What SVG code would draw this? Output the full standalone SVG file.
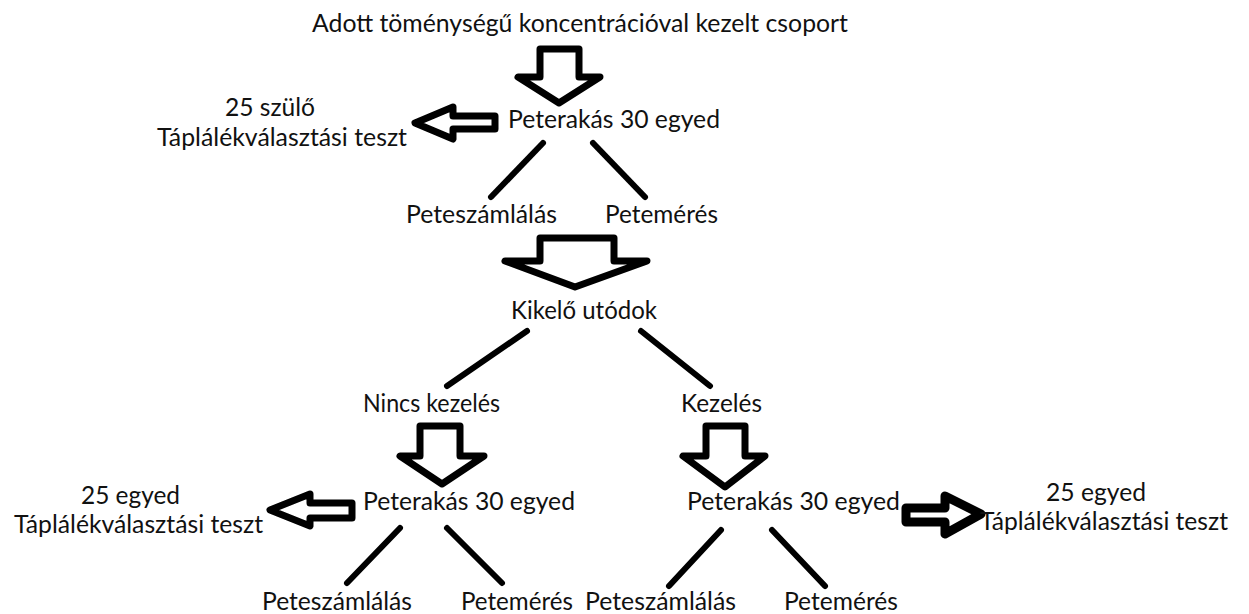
<svg xmlns="http://www.w3.org/2000/svg" width="1249" height="614" viewBox="0 0 1249 614">
<style>
text{font-family:Lato,"Open Sans","Liberation Sans",sans-serif;font-size:25px;fill:#111}
.ar{fill:#fff;stroke:#000;stroke-width:7;stroke-linejoin:round}
.ln{stroke:#000;stroke-width:6;stroke-linecap:round;fill:none}
</style>
<rect width="1249" height="614" fill="#fff"/>
<g id="connectors">
<polygon class="ar" points="540,49 579,49 579,77 600,77 559,103 518,77 540,77"/>
<polygon class="ar" points="495,116 453,116 453,107 415,123 453,139 453,129 495,129"/>
<polygon class="ar" points="540,238 614,238 614,261 647,261 575,287 505,261 540,261"/>
<polygon class="ar" points="420,426 460,426 460,456 484,456 442,484 400,456 420,456"/>
<polygon class="ar" points="352,503 310,503 310,494 270,510 310,526 310,518 352,518"/>
<polygon class="ar" points="706,426 745,426 745,456 765,456 725,487 683,456 706,456"/>
<polygon class="ar" style="stroke-width:9" points="906,508 945,508 945,496 981,514 945,534 945,522 906,522"/>
<line class="ln" x1="543" y1="143" x2="491" y2="197"/>
<line class="ln" x1="593" y1="143" x2="645" y2="197"/>
<line class="ln" x1="527" y1="331" x2="447" y2="386"/>
<line class="ln" x1="641" y1="331" x2="710" y2="386"/>
<line class="ln" x1="400" y1="528" x2="347" y2="583"/>
<line class="ln" x1="447" y1="528" x2="502" y2="583"/>
<line class="ln" x1="721" y1="530" x2="669" y2="586"/>
<line class="ln" x1="772" y1="530" x2="825" y2="586"/>
</g>
<g id="title"><text x="312" y="32" textLength="536" lengthAdjust="spacingAndGlyphs">Adott töménységű koncentrációval kezelt csoport</text></g>
<g id="peterakas1"><text x="508" y="128" textLength="212" lengthAdjust="spacingAndGlyphs">Peterakás 30 egyed</text></g>
<g id="szulo"><text x="225" y="116" textLength="90" lengthAdjust="spacingAndGlyphs">25 szülő</text><text x="157" y="146" textLength="250" lengthAdjust="spacingAndGlyphs">Táplálékválasztási teszt</text></g>
<g id="peteszamlalas1"><text x="406" y="223" textLength="151" lengthAdjust="spacingAndGlyphs">Peteszámlálás</text></g>
<g id="petemeres1"><text x="605" y="223" textLength="113" lengthAdjust="spacingAndGlyphs">Petemérés</text></g>
<g id="kikelo"><text x="511" y="319" textLength="146" lengthAdjust="spacingAndGlyphs">Kikelő utódok</text></g>
<g id="nincs"><text x="363" y="412" textLength="137" lengthAdjust="spacingAndGlyphs">Nincs kezelés</text></g>
<g id="kezeles"><text x="681" y="412" textLength="81" lengthAdjust="spacingAndGlyphs">Kezelés</text></g>
<g id="peterakas2"><text x="363" y="510" textLength="212" lengthAdjust="spacingAndGlyphs">Peterakás 30 egyed</text></g>
<g id="teszt2"><text x="81" y="504" textLength="99" lengthAdjust="spacingAndGlyphs">25 egyed</text><text x="14" y="533" textLength="249" lengthAdjust="spacingAndGlyphs">Táplálékválasztási teszt</text></g>
<g id="peterakas3"><text x="687" y="510" textLength="213" lengthAdjust="spacingAndGlyphs">Peterakás 30 egyed</text></g>
<g id="teszt3"><text x="1046" y="501" textLength="100" lengthAdjust="spacingAndGlyphs">25 egyed</text><text x="980" y="530" textLength="248" lengthAdjust="spacingAndGlyphs">Táplálékválasztási teszt</text></g>
<g id="peteszamlalas2"><text x="262" y="610" textLength="150" lengthAdjust="spacingAndGlyphs">Peteszámlálás</text></g>
<g id="petemeres2"><text x="461" y="610" textLength="112" lengthAdjust="spacingAndGlyphs">Petemérés</text></g>
<g id="peteszamlalas3"><text x="585" y="610" textLength="151" lengthAdjust="spacingAndGlyphs">Peteszámlálás</text></g>
<g id="petemeres3"><text x="784" y="610" textLength="114" lengthAdjust="spacingAndGlyphs">Petemérés</text></g>
</svg>
